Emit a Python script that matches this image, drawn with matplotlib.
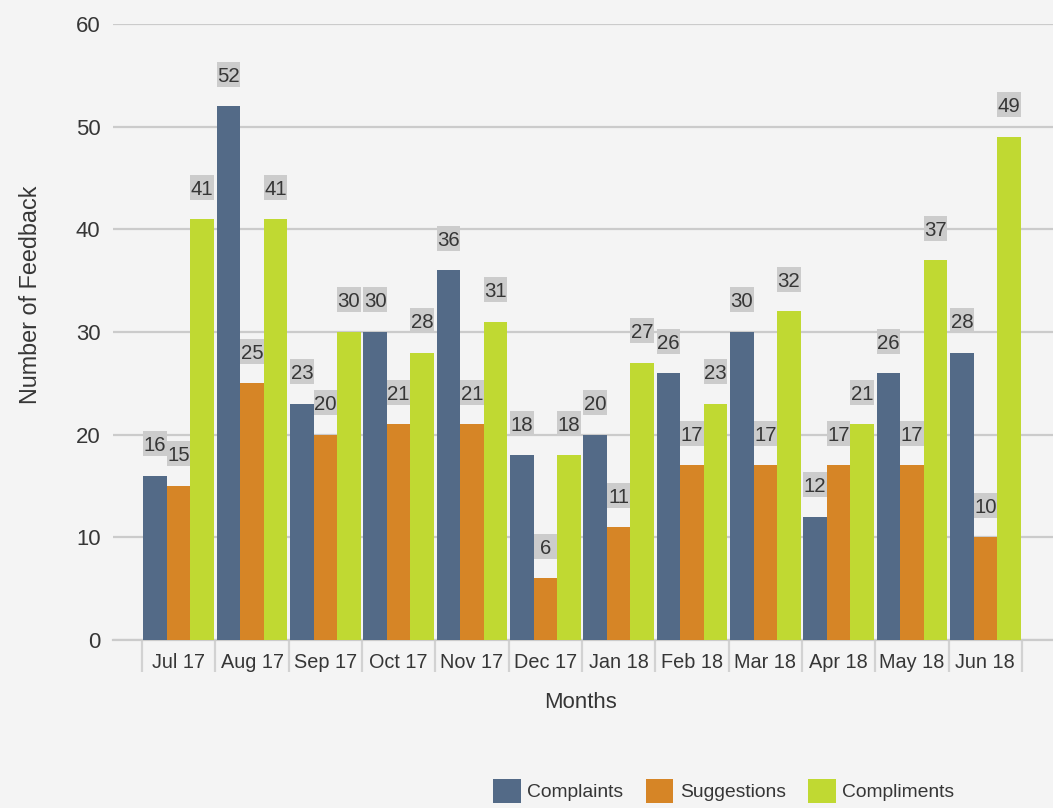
import matplotlib as mpl

mpl.use("Agg")
import matplotlib.pyplot as plt
import numpy as np
from matplotlib import font_manager
from matplotlib.patches import Patch

months = ["Jul 17", "Aug 17", "Sep 17", "Oct 17", "Nov 17", "Dec 17",
          "Jan 18", "Feb 18", "Mar 18", "Apr 18", "May 18", "Jun 18"]
complaints = [16, 52, 23, 30, 36, 18, 20, 26, 30, 12, 26, 28]
suggestions = [15, 25, 20, 21, 21, 6, 11, 17, 17, 17, 17, 10]
compliments = [41, 41, 30, 28, 31, 18, 27, 23, 32, 21, 37, 49]
series_names = ["Complaints", "Suggestions", "Compliments"]

BG = "#f4f4f4"
INK = "#363636"
GRID = "#cbcbcb"
BOX = "#cccccc"
COLORS = ["#536a87", "#d68526", "#c0d932"]

installed = {f.name for f in font_manager.fontManager.ttflist}
if "Liberation Sans Narrow" in installed:
    FONT, SCALE = "Liberation Sans Narrow", 1.0
else:
    FONT, SCALE = "Liberation Sans", 0.84

plt.rcParams["font.family"] = [FONT, "DejaVu Sans"]

fig = plt.figure(figsize=(10.53, 8.08), dpi=100, facecolor=BG)
ax = fig.add_axes([113 / 1053, 1 - 640 / 808, 940 / 1053, 616 / 808])
ax.set_facecolor(BG)

x = np.arange(len(months))
width = 0.32
for i, (vals, color) in enumerate(zip([complaints, suggestions, compliments], COLORS)):
    xs = x + (i - 1) * width
    ax.bar(xs, vals, width, color=color, zorder=3, linewidth=0)
    # value tags: grey box above each bar
    ax.bar(xs, 2.44, width, bottom=np.array(vals) + 1.9, color=BOX, zorder=3, linewidth=0)
    for xi, v in zip(xs, vals):
        ax.text(xi, v + 1.9 + 1.22, str(v), ha="center", va="center_baseline",
                fontsize=17.5 * SCALE, color=INK, zorder=4)

ax.set_ylim(0, 60)
ax.set_xlim(-0.5 - 29 / 73.3, len(months) - 0.5 + 31 / 73.3)
ax.set_yticks(range(0, 61, 10))
ax.grid(axis="y", color=GRID, linewidth=1.6, zorder=0)
ax.set_axisbelow(True)

for name, spine in ax.spines.items():
    spine.set_visible(name == "bottom")
ax.spines["bottom"].set_color(GRID)
ax.spines["bottom"].set_linewidth(1.6)

ax.set_xticks(x)
ax.set_xticklabels(months)
ax.set_xticks(np.arange(len(months) + 1) - 0.5, minor=True)
ax.tick_params(axis="x", which="major", length=0, pad=9, labelsize=17 * SCALE, labelcolor=INK)
ax.tick_params(axis="x", which="minor", length=23, width=1.6, color="#d2d2d2", direction="out")
ax.tick_params(axis="y", length=0, pad=9, labelsize=19 * SCALE, labelcolor=INK)

ax.set_ylabel("Number of Feedback", fontsize=20 * SCALE, color=INK)
ax.yaxis.set_label_coords(-0.0755, 0.56)
ax.set_xlabel("Months", fontsize=19 * SCALE, color=INK)
ax.xaxis.set_label_coords(0.497, -0.102)
ax.xaxis.label.set_va("center")

handles = [Patch(facecolor=c, edgecolor="none") for c in COLORS]
fig.legend(handles, series_names, loc="center left",
           bbox_to_anchor=(493 / 1053, 1 - 791 / 808), ncol=3, frameon=False,
           fontsize=16.5 * SCALE, labelcolor=INK, handlelength=1.45, handleheight=1.6,
           handletextpad=0.33, columnspacing=1.15, borderpad=0, borderaxespad=0)

fig.savefig("out.png", dpi=100, facecolor=BG)
